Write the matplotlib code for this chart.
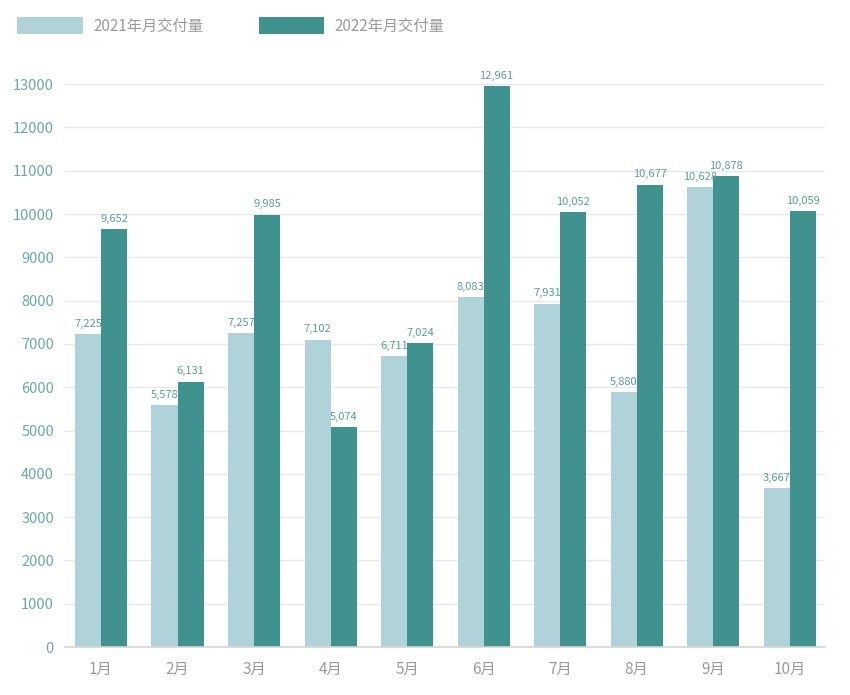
import matplotlib.pyplot as plt
import numpy as np

plt.rcParams['font.family'] = ['Noto Sans CJK SC', 'DejaVu Sans']

# 月份和交付量
mesi = ['1月', '2月', '3月', '4月', '5月', '6月', '7月', '8月', '9月', '10月']
consegne_2021 = [7225, 5578, 7257, 7102, 6711, 8083, 7931, 5880, 10628, 3667]
consegne_2022 = [9652, 6131, 9985, 5074, 7024, 12961, 10052, 10677, 10878, 10059]
etichette = ['2021年月交付量', '2022年月交付量']

colore_chiaro = '#afd3d9'
colore_scuro = '#40928f'

fig = plt.figure(figsize=(8.5, 6.95), dpi=100)
ax = fig.add_axes([0.0765, 0.069, 0.894, 0.81])

x = np.arange(len(mesi))
w = 0.34
b1 = ax.bar(x - w / 2, consegne_2021, w, color=colore_chiaro, label=etichette[0])
b2 = ax.bar(x + w / 2, consegne_2022, w, color=colore_scuro, label=etichette[1])

for barre in (b1, b2):
    for b in barre:
        ax.text(b.get_x() + b.get_width() / 2, b.get_height() + 120,
                f'{int(b.get_height()):,}', ha='center', va='bottom',
                fontsize=8, color='#5c9e9b', clip_on=False)

ax.set_xlim(-0.47, 9.46)
ax.set_ylim(0, 13000)
ax.set_yticks(range(0, 13001, 1000))
ax.set_xticks(x)
ax.set_xticklabels(mesi)
ax.tick_params(axis='y', length=0, pad=8, labelsize=10.5, labelcolor='#6aa8a5')
ax.tick_params(axis='x', length=0, pad=10, labelsize=11, labelcolor='#9a9a9a')

ax.grid(axis='y', color='#e8e8e8', linewidth=1)
ax.set_axisbelow(True)
for s in ['top', 'right', 'left']:
    ax.spines[s].set_visible(False)
ax.spines['bottom'].set_color('#d5d5d5')
ax.spines['bottom'].set_linewidth(1.2)

fig.legend(loc='upper left', bbox_to_anchor=(0.004, 0.995), ncol=2, frameon=False,
           handlelength=4.3, handleheight=1.3, columnspacing=3.6, handletextpad=0.7,
           fontsize=11, labelcolor='#9a9a9a')

fig.savefig('out.png', dpi=100)
